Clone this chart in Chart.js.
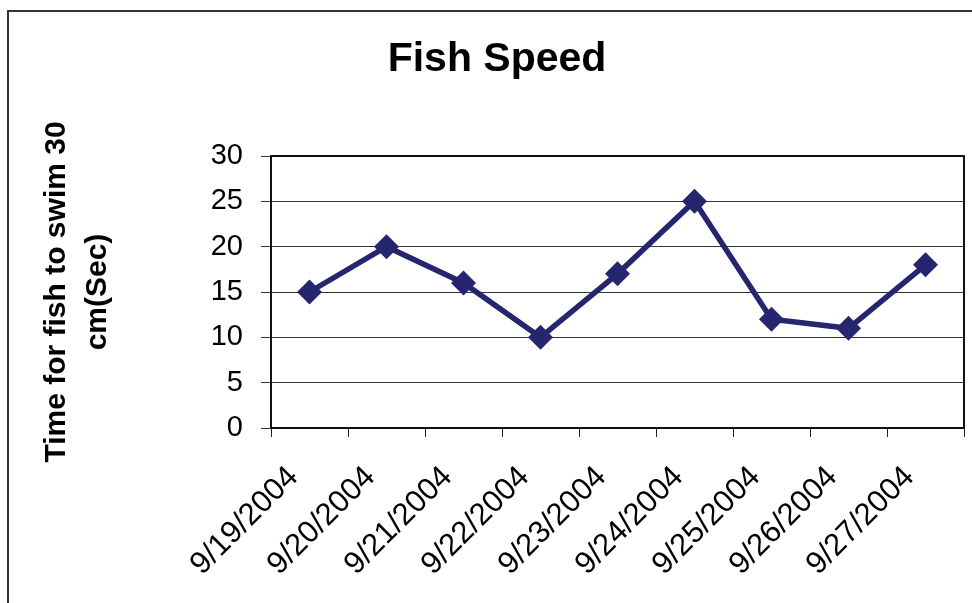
<!DOCTYPE html>
<html>
<head>
<meta charset="utf-8">
<script src="https://cdn.jsdelivr.net/npm/chart.js@4/dist/chart.umd.min.js"></script>
<style>
  html, body { margin: 0; padding: 0; background: #fff; }
  #wrap { width: 972px; height: 603px; position: relative; }
</style>
</head>
<body>
<div id="wrap"><canvas id="c" width="972" height="603"></canvas></div>
<script>
const categories = ['9/19/2004', '9/20/2004', '9/21/2004', '9/22/2004', '9/23/2004', '9/24/2004', '9/25/2004', '9/26/2004', '9/27/2004'];
const timeValues = [15, 20, 16, 10, 17, 25, 12, 11, 18];
const yMin = 0;
const yMax = 30;
const yStep = 5;
const chartTitle = 'Fish Speed';
const yTitleLines = ['Time for fish to swim 30', 'cm(Sec)'];

const FONT = '"Liberation Sans", Arial, sans-serif';
const LINE_COLOR = '#26266F';

const framePlugin = {
  id: 'frame',
  beforeDraw(chart) {
    const ctx = chart.ctx;
    ctx.save();
    ctx.fillStyle = '#fff';
    ctx.fillRect(0, 0, chart.width, chart.height);
    ctx.strokeStyle = '#333';
    ctx.lineWidth = 2;
    ctx.beginPath();
    ctx.moveTo(8, chart.height);
    ctx.lineTo(8, 11);
    ctx.lineTo(chart.width, 11);
    ctx.stroke();
    ctx.restore();
  },
  beforeDatasetsDraw(chart) {
    const a = chart.chartArea;
    const ctx = chart.ctx;
    ctx.save();
    ctx.strokeStyle = '#111';
    ctx.lineWidth = 2;
    ctx.beginPath();
    ctx.moveTo(a.left, a.top);
    ctx.lineTo(a.right, a.top);
    ctx.lineTo(a.right, a.bottom);
    ctx.stroke();
    ctx.restore();
  }
};

new Chart(document.getElementById('c'), {
  type: 'line',
  data: {
    labels: categories,
    datasets: [{
      label: 'Time',
      data: timeValues,
      borderColor: LINE_COLOR,
      backgroundColor: LINE_COLOR,
      borderWidth: 5.5,
      tension: 0,
      pointStyle: 'rectRot',
      pointRadius: 12.5,
      pointHoverRadius: 12.5,
      pointBorderWidth: 0,
      pointBackgroundColor: LINE_COLOR,
      clip: false
    }]
  },
  options: {
    responsive: false,
    animation: false,
    devicePixelRatio: 1,
    layout: { autoPadding: false, padding: { left: 30, right: 8, top: 0, bottom: 0 } },
    plugins: {
      legend: { display: false },
      tooltip: { enabled: false },
      title: {
        display: true,
        text: chartTitle,
        color: '#000',
        font: { family: FONT, size: 41, weight: 'bold', lineHeight: 1.2 },
        padding: { top: 35, bottom: 71.8 }
      }
    },
    scales: {
      x: {
        type: 'category',
        offset: true,
        grid: {
          offset: true,
          drawOnChartArea: false,
          drawTicks: true,
          tickLength: 9,
          color: '#222',
          lineWidth: 1
        },
        border: { display: true, color: '#111', width: 2 },
        ticks: {
          color: '#000',
          font: { family: FONT, size: 31 },
          minRotation: 45,
          maxRotation: 45,
          autoSkip: false,
          padding: 22,
          labelOffset: -16
        },
        afterFit(scale) {
          scale.height = 175;
          scale.paddingLeft = 0;
          scale.paddingRight = 0;
        }
      },
      y: {
        min: yMin,
        max: yMax,
        grid: {
          color: '#333',
          lineWidth: 1,
          drawTicks: true,
          tickLength: 10
        },
        border: { display: true, color: '#111', width: 2 },
        ticks: {
          stepSize: yStep,
          color: '#000',
          font: { family: FONT, size: 29 },
          padding: 18
        },
        title: {
          display: true,
          text: yTitleLines,
          color: '#000',
          font: { family: FONT, size: 30, weight: 'bold', lineHeight: 1.37 },
          padding: { top: 6, bottom: 0 }
        },
        afterFit(scale) {
          scale.width = 241;
          scale.paddingTop = 0;
          scale.paddingBottom = 0;
        }
      }
    }
  },
  plugins: [framePlugin]
});
</script>
</body>
</html>
